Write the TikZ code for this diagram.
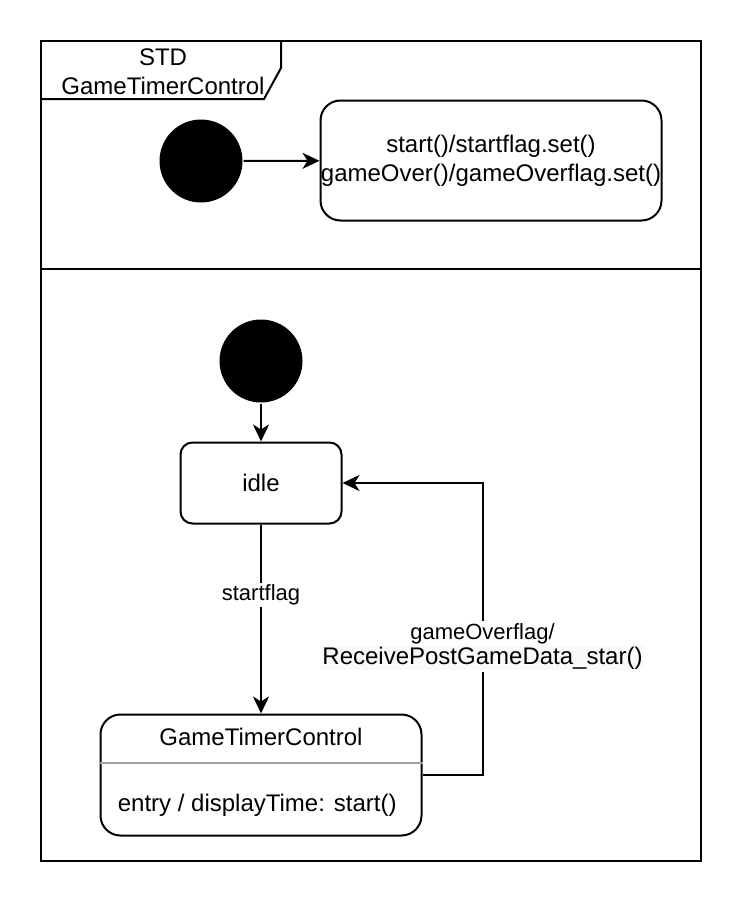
\documentclass[tikz,border=0pt]{standalone}
\usepackage{fontspec}
\setmainfont{Liberation Sans}
\usetikzlibrary{arrows.meta,positioning}
\definecolor{labelbg}{HTML}{F8F9FA}
\definecolor{divgray}{HTML}{A0A0A0}

\begin{document}
\begin{tikzpicture}[x=1pt,y=-1pt,line width=2pt,
                    >={Stealth[length=17pt,width=16pt,inset=5pt]},
                    font=\fontsize{24}{28.8}\selectfont,
                    init node/.style={circle,fill=black,minimum size=83pt,inner sep=0pt},
                    state node/.style={rectangle,draw,rounded corners=12pt,minimum width=161pt,minimum height=81pt},
                    edge label/.style={fill=white,inner sep=2pt,font=\fontsize{22}{25}\selectfont}]

  \useasboundingbox (0,0) rectangle (742,902);

  % frame
  \draw (41,41) rectangle (701,861);
  \draw (41,269) -- (701,269);
  \draw (41,99) -- (264,99) -- (281,68) -- (281,41);
  \node (frame title) at (163,72) [align=center] {STD\\GameTimerControl};

  \node[init node] (top init) at (201,161) {};
  \node[state node,rounded corners=20pt,minimum width=341pt,minimum height=120pt,
        inner sep=0pt,align=center] (flags) at (491,160.5)
        {start()/startflag.set()\\gameOver()/gameOverflag.set()};

  \node[init node] (init) at (261,361) {};
  \node[state node] (idle) [below=38pt of init] {idle};
  \node[state node,rounded corners=20pt,minimum width=321pt,minimum height=121pt]
        (gtc) [below=189pt of idle] {};
  \node (gtc title) at ([yshift=38pt]gtc.center) {GameTimerControl};
  \node (gtc entry) [anchor=west] at ([xshift=14pt,yshift=-30.5pt]gtc.west) {entry / displayTime: start()};
  \draw[divgray] ([yshift=12pt]gtc.west) -- ([yshift=12pt]gtc.east);
  \coordinate (turn) at ([xshift=60pt]gtc.east);

  \draw[->] (top init) -- (flags);
  \draw[->] (init) -- (idle);
  \draw[->] (idle) -- node[edge label,pos=0.372] {startflag} (gtc);
  \draw[->] (gtc.east) -- (turn) |- node[edge label,pos=0.22,align=center]
        {gameOverflag/\\{\fontsize{24}{28.8}\selectfont\setlength{\fboxsep}{1pt}\colorbox{labelbg}{ReceivePostGameData\_star()}}}
        (idle.east);
\end{tikzpicture}
\end{document}
